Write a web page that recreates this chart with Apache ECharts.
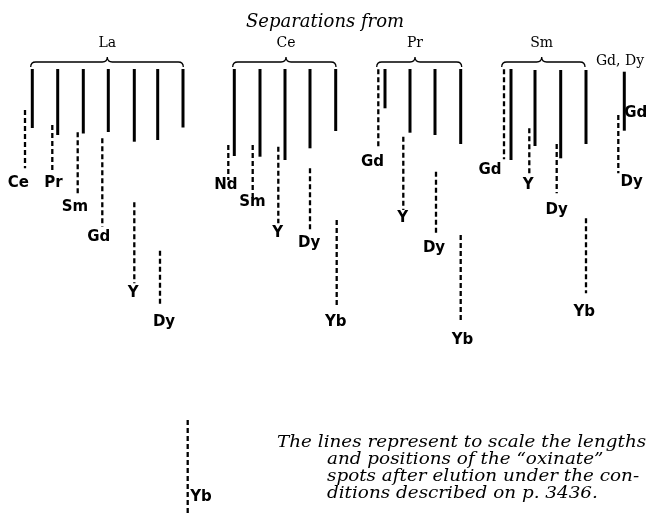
<!DOCTYPE html>
<html>
<head>
<meta charset="utf-8">
<script src="https://cdn.jsdelivr.net/npm/echarts@6/dist/echarts.min.js"></script>
<style>
  html, body { margin: 0; padding: 0; background: #fff; }
  #chart { width: 651px; height: 515px; }
</style>
</head>
<body>
<div id="chart"></div>
<script>
// group names over the braces
const groupNames = ['La', 'Ce', 'Pr', 'Sm']
// brace: [from, to, tip, level]
const groupBraces = [
  [30.7, 183.3, 107.3, 62],
  [232.7, 336, 286, 62],
  [376.7, 461.7, 415, 62],
  [501.7, 585, 541.7, 62]
]
const groupLabelPos = [[107.3, 43], [286, 43], [415, 43], [541.7, 43], [620, 61.7]]

// solid spots (the separated-from element): [lane, start, end]
const solidSpots = [
  [32.3, 69, 128], [57.7, 69, 135], [83.3, 69, 133.5], [108.3, 69, 132],
  [134.3, 69, 141.7], [157.7, 69, 140], [183, 69, 127.5],
  [234.3, 69, 156], [260, 69, 156.7], [285, 69, 160], [310, 69, 148.3], [335.7, 69, 131],
  [385, 69, 108.3], [410, 69, 132.7], [435, 69, 135], [460.7, 69, 144],
  [511, 69, 160], [535, 70, 146], [560.7, 70, 158.3], [586, 70, 144],
  [624.3, 71.7, 130.7]
]

// dashed spots (the second element): [lane, start, end]
const dashedSpots = [
  [25, 110, 168.3], [52.3, 125, 171.7], [77.7, 132.3, 195], [102.3, 138.3, 226.7],
  [134.3, 202.3, 283.3], [160, 250.7, 305], [187.7, 420, 515],
  [228.3, 145, 180], [252.7, 145, 200], [278.3, 146.7, 223.3], [310, 168.3, 230], [336.7, 220, 306.7],
  [378.3, 69.3, 146.7], [403.3, 136.7, 210], [436, 171.7, 233.3], [460.7, 235, 320],
  [504, 69.3, 159.3], [529.3, 128.3, 175], [556.7, 144, 193.3], [586, 218.3, 293.3],
  [618.3, 115, 173.3]
]

// element names written by the spots: [x, y, name]
const spotNames = [
  [18.3, 183, 'Ce'], [53.5, 183, 'Pr'], [75, 206.7, 'Sm'], [98.8, 237, 'Gd'],
  [133.3, 293, 'Y'], [164, 322, 'Dy'], [201, 497, 'Yb'],
  [225.8, 185, 'Nd'], [252.5, 201.7, 'Sm'], [277.7, 233, 'Y'], [309.2, 243, 'Dy'], [335.8, 321.7, 'Yb'],
  [372.5, 161.7, 'Gd'], [402.7, 218.3, 'Y'], [434, 248.3, 'Dy'], [462.5, 340, 'Yb'],
  [490, 170, 'Gd'], [528.3, 185, 'Y'], [556.7, 210, 'Dy'], [584.3, 311.7, 'Yb'],
  [635.8, 113.3, 'Gd'], [631.7, 181.7, 'Dy']
]

const caption = [
  'The lines represent to scale the lengths',
  'and positions of the \u201Coxinate\u201D',
  'spots after elution under the con-',
  'ditions described on p. 3436.'
]

function segment (dash, width) {
  return function (params, api) {
    const a = api.coord([api.value(0), api.value(1)])
    const b = api.coord([api.value(0), api.value(2)])
    return {
      type: 'line',
      shape: { x1: a[0], y1: a[1], x2: b[0], y2: b[1] },
      style: { stroke: '#000', lineWidth: width, lineDash: dash }
    }
  }
}

function brace (params, api) {
  const l = api.coord([api.value(0), api.value(3)])
  const r = api.coord([api.value(1), api.value(3)])
  const t = api.coord([api.value(2), api.value(3)])
  const y = l[1]
  const d = 'M' + l[0] + ' ' + (y + 5) + ' Q' + l[0] + ' ' + y + ' ' + (l[0] + 5) + ' ' + y +
    ' L' + (t[0] - 5) + ' ' + y + ' Q' + t[0] + ' ' + y + ' ' + t[0] + ' ' + (y - 5) +
    ' Q' + t[0] + ' ' + y + ' ' + (t[0] + 5) + ' ' + y +
    ' L' + (r[0] - 5) + ' ' + y + ' Q' + r[0] + ' ' + y + ' ' + r[0] + ' ' + (y + 5)
  return {
    type: 'path',
    shape: { pathData: d },
    style: { stroke: '#000', lineWidth: 1.3, fill: null }
  }
}

const groupLabels = groupLabelPos.map(function (p, i) {
  return [p[0], p[1], i < groupNames.length ? groupNames[i] : 'Gd, Dy']
})

const captionGraphics = caption.map(function (line, i) {
  return {
    type: 'text',
    x: i === 0 ? 277 : 327,
    y: 434 + i * 17,
    scaleX: 1.08,
    style: {
      text: line,
      font: 'italic 17px "DejaVu Serif"',
      fill: '#000'
    }
  }
})

const myChart = echarts.init(document.getElementById('chart'))
const option = {
  animation: false,
  backgroundColor: '#fff',
  title: {
    text: 'Separations from',
    left: 241,
    top: 8,
    textStyle: {
      fontFamily: 'DejaVu Serif',
      fontStyle: 'italic',
      fontWeight: 'normal',
      fontSize: 18,
      color: '#000'
    }
  },
  grid: { left: 0, right: 0, top: 0, bottom: 0 },
  xAxis: { type: 'value', min: 0, max: 651, show: false },
  yAxis: { type: 'value', min: 0, max: 515, inverse: true, show: false },
  graphic: captionGraphics,
  series: [
    {
      type: 'custom',
      renderItem: segment(null, 3),
      data: solidSpots
    },
    {
      type: 'custom',
      renderItem: segment([5, 3], 2.3),
      data: dashedSpots
    },
    {
      type: 'custom',
      renderItem: brace,
      data: groupBraces
    },
    {
      type: 'scatter',
      symbolSize: 0,
      itemStyle: { opacity: 1 },
      data: groupLabels,
      label: {
        show: true,
        position: 'inside',
        formatter: function (p) { return p.value[2] },
        fontFamily: 'DejaVu Serif',
        fontSize: 14,
        color: '#000',
        opacity: 1
      }
    },
    {
      type: 'scatter',
      symbolSize: 0,
      itemStyle: { opacity: 1 },
      data: spotNames,
      label: {
        show: true,
        position: 'inside',
        formatter: function (p) { return p.value[2] },
        fontFamily: 'DejaVu Sans',
        fontWeight: 'bold',
        fontSize: 15,
        color: '#000',
        opacity: 1
      }
    }
  ]
}
myChart.setOption(option)
</script>
</body>
</html>
